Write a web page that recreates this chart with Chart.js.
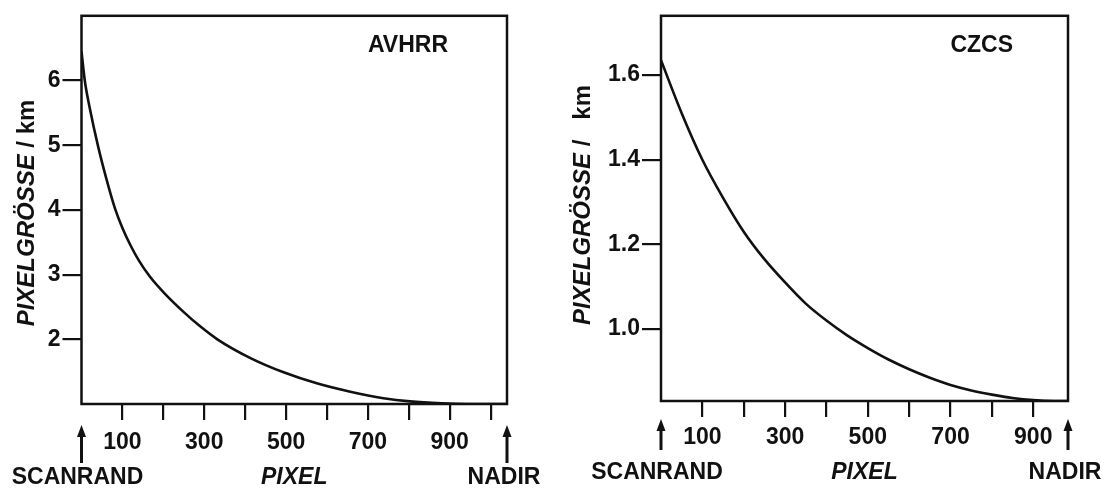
<!DOCTYPE html>
<html>
<head>
<meta charset="utf-8">
<script src="https://cdn.jsdelivr.net/npm/chart.js@4/dist/chart.umd.min.js"></script>
<style>
  body { margin: 0; background: #fff; }
  canvas { position: absolute; top: 0; }
  #avhrrChart { left: 0; }
  #czcsChart { left: 556px; }
</style>
</head>
<body>
<canvas id="avhrrChart" width="556" height="494"></canvas>
<canvas id="czcsChart" width="557" height="494"></canvas>
<script>
// AVHRR: pixel number from scan edge (0) to nadir, pixel size in km
const avhrrPixel = [0, 8, 20, 41, 60, 82, 100, 120, 140, 167, 200, 250, 290, 332, 413, 494, 575, 657, 738, 803, 880, 941, 1040];
const avhrrSize = [6.45, 6.0, 5.58, 4.97, 4.5, 4.02, 3.72, 3.45, 3.22, 2.97, 2.73, 2.42, 2.2, 2.0, 1.71, 1.49, 1.32, 1.19, 1.09, 1.04, 1.01, 1.0, 1.0];

// CZCS
const czcsPixel = [0, 50, 100, 150, 200, 250, 300, 350, 400, 450, 500, 550, 600, 650, 700, 750, 800, 850, 900, 950, 984];
const czcsSize = [1.635, 1.51, 1.40, 1.31, 1.23, 1.165, 1.11, 1.06, 1.02, 0.985, 0.955, 0.928, 0.905, 0.885, 0.868, 0.855, 0.845, 0.837, 0.832, 0.83, 0.83];

const xTicks = [100, 200, 300, 400, 500, 600, 700, 800, 900, 1000];
const xLabels = [100, 300, 500, 700, 900];
const avhrrYTicks = [2, 3, 4, 5, 6];
const czcsYTicks = [1.0, 1.2, 1.4, 1.6];

const FONT = '"Liberation Sans", Arial, sans-serif';
const SIZE = 23;
const ink = '#111';

function arrow(ctx, x, y1, y2) {
    ctx.beginPath();
    ctx.moveTo(x, y2);
    ctx.lineTo(x, y1 + 6);
    ctx.stroke();
    ctx.beginPath();
    ctx.moveTo(x, y1);
    ctx.lineTo(x - 4.5, y1 + 12);
    ctx.lineTo(x + 4.5, y1 + 12);
    ctx.closePath();
    ctx.fill();
}

const decor = {
    id: 'decor',
    afterDraw(chart) {
        const o = chart.options.plugins.decor;
        const { ctx, chartArea: a } = chart;
        ctx.save();
        ctx.strokeStyle = ink;
        ctx.fillStyle = ink;
        ctx.lineWidth = 2.5;
        ctx.strokeRect(a.left, a.top, a.right - a.left, a.bottom - a.top);

        ctx.font = `bold ${SIZE}px ${FONT}`;
        ctx.textAlign = 'right';
        ctx.textBaseline = 'middle';
        ctx.fillText(o.name, a.right - o.nameInset, 46);

        ctx.lineWidth = 3;
        arrow(ctx, a.left, o.arrowTop, o.arrowBottom);
        arrow(ctx, a.right, o.arrowTop, o.arrowBottom);

        ctx.textAlign = 'center';
        ctx.fillText('SCANRAND', a.left - 4, o.labelY);
        ctx.fillText('NADIR', a.right - 3, o.labelY);
        ctx.font = `italic bold ${SIZE}px ${FONT}`;
        ctx.fillText('PIXEL', (a.left + a.right) / 2, o.labelY);

        // y axis title: italic word, upright unit
        ctx.translate(27, o.titleY);
        ctx.rotate(-Math.PI / 2);
        ctx.textAlign = 'left';
        const word = 'PIXELGRÖSSE';
        const unit = o.unitGap + 'km';
        ctx.font = `italic bold ${SIZE + 1}px ${FONT}`;
        const w1 = ctx.measureText(word).width;
        ctx.font = `bold ${SIZE + 1}px ${FONT}`;
        const w2 = ctx.measureText(unit).width;
        const x0 = -(w1 + w2) / 2;
        ctx.font = `italic bold ${SIZE + 1}px ${FONT}`;
        ctx.fillText(word, x0, 0);
        ctx.font = `bold ${SIZE + 1}px ${FONT}`;
        ctx.fillText(unit, x0 + w1, 0);
        ctx.restore();
    }
};

function makeChart(id, xs, ys, yMin, yMax, xMax, yTicks, decimals, yWidth, xHeight, labelPad, pad, deco) {
    return new Chart(document.getElementById(id), {
        type: 'line',
        data: {
            datasets: [{
                data: xs.map((x, i) => ({ x, y: ys[i] })),
                borderColor: ink,
                borderWidth: 2.6,
                pointRadius: 0,
                cubicInterpolationMode: 'monotone',
                fill: false,
            }],
        },
        options: {
            responsive: false,
            animation: false,
            layout: { padding: pad },
            plugins: { legend: { display: false }, tooltip: { enabled: false }, decor: deco },
            scales: {
                x: {
                    type: 'linear',
                    min: 0,
                    max: xMax,
                    border: { display: false },
                    grid: { drawOnChartArea: false, tickLength: 16, color: ink, lineWidth: 2.2 },
                    afterBuildTicks: s => { s.ticks = xTicks.filter(v => v <= xMax).map(v => ({ value: v })); },
                    afterFit: s => { s.height = xHeight; },
                    ticks: {
                        autoSkip: false,
                        maxRotation: 0,
                        padding: labelPad,
                        color: ink,
                        font: { family: FONT, size: SIZE, weight: 'bold' },
                        callback: v => xLabels.includes(v) ? String(v) : '',
                    },
                },
                y: {
                    min: yMin,
                    max: yMax,
                    border: { display: false },
                    grid: { drawOnChartArea: false, tickLength: 19, color: ink, lineWidth: 2.2 },
                    afterBuildTicks: s => { s.ticks = yTicks.map(v => ({ value: v })); },
                    afterFit: s => { s.width = yWidth; },
                    ticks: {
                        padding: 2,
                        color: ink,
                        font: { family: FONT, size: SIZE, weight: 'bold' },
                        callback: v => decimals ? v.toFixed(decimals) : String(v),
                    },
                },
            },
        },
        plugins: [decor],
    });
}

makeChart('avhrrChart', avhrrPixel, avhrrSize, 1.0, 7.0, 1040, avhrrYTicks, 0, 81.5, 90, 9,
    { left: 0, top: 7, right: 49, bottom: 0 },
    { name: 'AVHRR', nameInset: 59, arrowTop: 425, arrowBottom: 463, labelY: 478, titleY: 213, unitGap: ' / ' });

makeChart('czcsChart', czcsPixel, czcsSize, 0.83, 1.74, 984, czcsYTicks, 1, 105, 93, 7,
    { left: 0, top: 6, right: 45, bottom: 0 },
    { name: 'CZCS', nameInset: 55, arrowTop: 419, arrowBottom: 450, labelY: 473, titleY: 205, unitGap: ' /   ' });
</script>
</body>
</html>
